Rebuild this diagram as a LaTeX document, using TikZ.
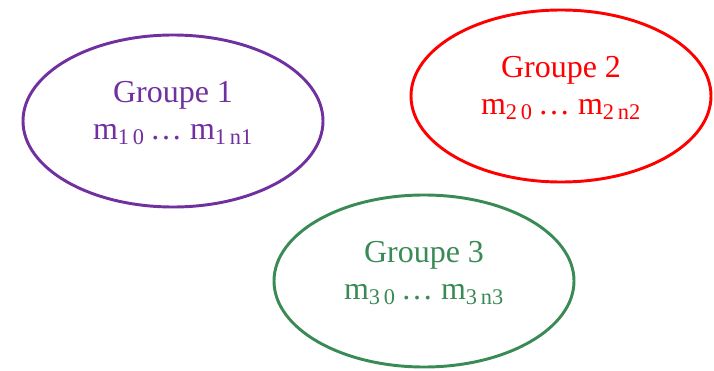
\documentclass[tikz,border=0pt]{standalone}
\usepackage{fontspec}
\setmainfont{Liberation Serif}
\usetikzlibrary{shapes.geometric}
\definecolor{grPurple}{HTML}{7030A0}
\definecolor{grRed}{HTML}{FF0000}
\definecolor{grGreen}{HTML}{3A8A55}
\newcommand{\mlist}[1]{m\textsubscript{#1\,0}\,\ldots\ m\textsubscript{#1\,n#1}}
\tikzset{
  groupe/.style={
    ellipse, line width=2.2pt, minimum width=225pt, minimum height=129pt,
    inner sep=0pt
  },
  grtext/.style={align=center, inner sep=0pt, font=\fontsize{24}{27.5}\selectfont},
}

\begin{document}
\begin{tikzpicture}[x=0.75pt, y=-0.75pt]
  \useasboundingbox (0,0) rectangle (714,371);
  \node[groupe, draw=grPurple] (g1) at (173,121) {};
  \node[groupe, draw=grRed]    (g2) at (561,96)  {};
  \node[groupe, draw=grGreen]  (g3) at (424,281) {};
  \node[grtext, text=grPurple] (t1) at ([yshift=6pt]g1.center) {Groupe 1\\\mlist{1}};
  \node[grtext, text=grRed]    (t2) at ([yshift=6pt]g2.center) {Groupe 2\\\mlist{2}};
  \node[grtext, text=grGreen]  (t3) at ([yshift=6pt]g3.center) {Groupe 3\\\mlist{3}};
\end{tikzpicture}
\end{document}
